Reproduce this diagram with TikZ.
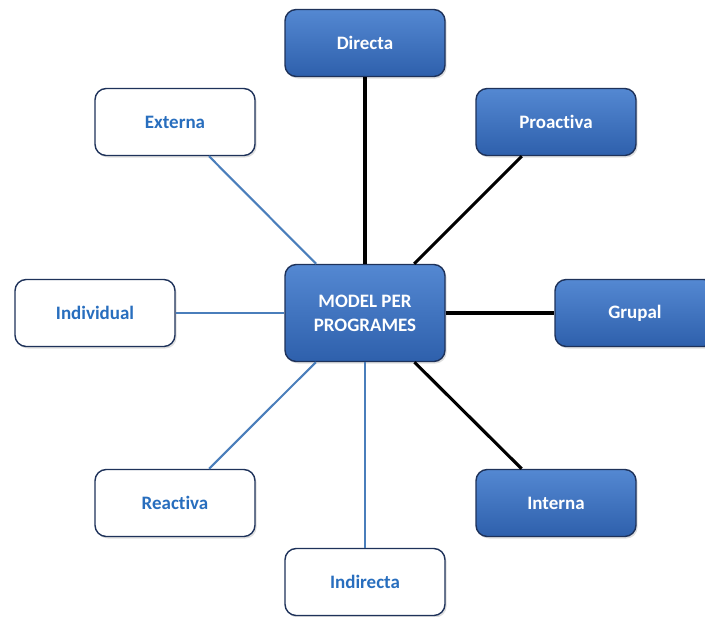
\documentclass[tikz,border=0pt]{standalone}
\usepackage{fontspec}
\setmainfont[Ligatures=NoCommon]{Carlito}
\usetikzlibrary{shadows}
\definecolor{boxtop}{RGB}{84,136,210}
\definecolor{boxbot}{RGB}{46,96,172}
\definecolor{navy}{RGB}{30,50,90}
\definecolor{textblue}{RGB}{40,110,190}
\definecolor{linkblue}{RGB}{74,126,187}
\begin{document}
\begin{tikzpicture}[
  filled/.style={rectangle, rounded corners=0.28cm, draw=navy, line width=1pt,
    top color=boxtop, bottom color=boxbot, text=white,
    font=\fontsize{13.5}{17}\selectfont\bfseries,
    minimum width=4cm, minimum height=1.675cm, align=center,
    drop shadow={shadow xshift=0.04cm, shadow yshift=-0.05cm, opacity=0.25}},
  empty/.style={rectangle, rounded corners=0.28cm, draw=navy, line width=1pt,
    fill=white, text=textblue, font=\fontsize{13.5}{17}\selectfont\bfseries,
    minimum width=4cm, minimum height=1.675cm, align=center,
    drop shadow={shadow xshift=0.04cm, shadow yshift=-0.05cm, opacity=0.25}},
  darklink/.style={draw=black, line width=2.2pt},
  lightlink/.style={draw=linkblue, line width=1.5pt}]

\useasboundingbox[fill=white] (0,0) rectangle (17.625,-15.4);

% centre
\node[filled, minimum height=2.425cm] (model) at (9.125,-7.825) {MODEL PER\\PROGRAMES};

% filled boxes
\node[filled] (directa) at (9.125,-1.075) {Directa};
\node[filled] (proactiva) at (13.9,-3.05) {Proactiva};
\node[filled] (grupal) at (15.875,-7.825) {Grupal};
\node[filled] (interna) at (13.9,-12.575) {Interna};

% white boxes
\node[empty] (externa) at (4.375,-3.05) {Externa};
\node[empty] (individual) at (2.375,-7.825) {Individual};
\node[empty] (reactiva) at (4.375,-12.575) {Reactiva};
\node[empty] (indirecta) at (9.125,-14.55) {Indirecta};

\draw[darklink] (model) -- (directa);
\draw[darklink] (model) -- (proactiva);
\draw[darklink] (model) -- (grupal);
\draw[darklink] (model) -- (interna);
\draw[lightlink] (model) -- (externa);
\draw[lightlink] (model) -- (individual);
\draw[lightlink] (model) -- (reactiva);
\draw[lightlink] (model) -- (indirecta);

\end{tikzpicture}
\end{document}
